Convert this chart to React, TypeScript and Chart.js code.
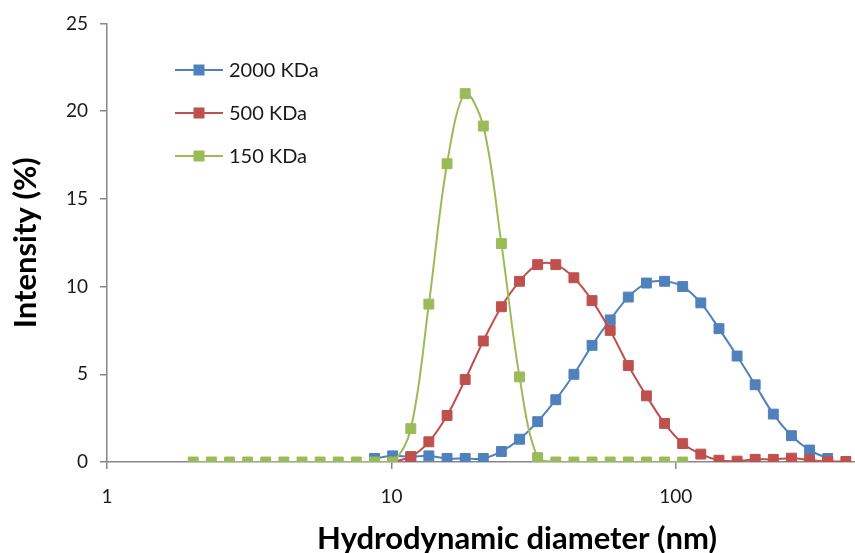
import React, { useEffect, useRef } from "react";
import { Chart, registerables } from "chart.js";

Chart.register(...registerables);

// Hydrodynamic diameter bins (nm)
const sizesNm = [
  2.01, 2.328, 2.696, 3.122, 3.615, 4.187, 4.849, 5.615, 6.503, 7.531, 8.721,
  10.1, 11.7, 13.54, 15.69, 18.17, 21.04, 24.36, 28.21, 32.67, 37.84, 43.82,
  50.75, 58.77, 68.06, 78.82, 91.28, 105.7, 122.4, 141.8, 164.2, 190.1, 220.2,
  255.0, 295.3, 342.0, 396.1,
];

const N = null;
// Intensity (%)
const kda2000 = [
  N, N, N, N, N, N, N, N, N, N,
  0.2, 0.35, 0.3, 0.35, 0.2, 0.2, 0.2, 0.6, 1.3, 2.3, 3.55, 5.0, 6.65, 8.1,
  9.4, 10.2, 10.3, 10.0, 9.07, 7.6, 6.04, 4.4, 2.73, 1.5, 0.68, 0.2,
  N,
];
const kda500 = [
  N, N, N, N, N, N, N, N, N, N, N,
  0, 0.3, 1.15, 2.65, 4.7, 6.9, 8.85, 10.3, 11.25, 11.25, 10.5, 9.2, 7.5, 5.5,
  3.77, 2.2, 1.05, 0.45, 0.1, 0.05, 0.15, 0.15, 0.22, 0.12, 0.03, 0.03,
];
const kda150 = [
  0, 0, 0, 0, 0, 0, 0, 0, 0, 0, 0, 0,
  1.9, 9.0, 17.0, 21.0, 19.15, 12.45, 4.85, 0.25,
  0, 0, 0, 0, 0, 0, 0, 0,
  N, N, N, N, N, N, N, N, N,
];

const seriesLabels = ["2000 KDa", "500 KDa", "150 KDa"];
const seriesColors = ["#4F81BD", "#C0504D", "#9BBB59"];
const seriesValues = [kda2000, kda500, kda150];

const xTicks = [1, 10, 100];
const yMin = 0;
const yMax = 25;
const yStep = 5;
const xMin = 1;
const xMax = 764;

const xTitle = "Hydrodynamic diameter (nm)";
const yTitle = "Intensity (%)";

const FONT = "Lato, 'Open Sans', sans-serif";

const legendPlugin = {
  id: "insideLegend",
  afterDraw(chart: any) {
    const ctx = chart.ctx;
    ctx.save();
    chart.data.datasets.forEach((ds: any, i: number) => {
      const y = 70 + 43 * i;
      ctx.strokeStyle = ds.borderColor;
      ctx.lineWidth = 2;
      ctx.beginPath();
      ctx.moveTo(175, y);
      ctx.lineTo(223, y);
      ctx.stroke();
      ctx.fillStyle = ds.backgroundColor;
      ctx.fillRect(199 - 5.5, y - 5.5, 11, 11);
      ctx.fillStyle = "#1a1a1a";
      ctx.font = `20px ${FONT}`;
      ctx.textAlign = "left";
      ctx.textBaseline = "middle";
      ctx.fillText(ds.label, 229, y + 1);
    });
    ctx.restore();
  },
};

export default function App() {
  const ref = useRef<HTMLCanvasElement>(null);

  useEffect(() => {
    if (!ref.current) return;
    const toPts = (vals: (number | null)[]) =>
      sizesNm
        .map((x, i) => ({ x, y: vals[i] }))
        .filter((p) => p.y !== null);

    const datasets = seriesValues.map((vals, i) => ({
      label: seriesLabels[i],
      data: toPts(vals),
      borderColor: seriesColors[i],
      backgroundColor: seriesColors[i],
      pointBackgroundColor: seriesColors[i],
      pointBorderColor: seriesColors[i],
      pointBorderWidth: 1,
      pointStyle: "rect",
      pointRadius: 7,
      borderWidth: 2,
      tension: 0.35,
      order: 3 - i,
      fill: false,
    }));

    const chart = new Chart(ref.current, {
      type: "line",
      data: { datasets },
      options: {
        animation: false,
        responsive: false,
        devicePixelRatio: 1,
        layout: { padding: { left: 0, top: 22, right: 2, bottom: 0 } },
        plugins: {
          legend: { display: false },
          tooltip: { enabled: false },
        },
        scales: {
          x: {
            type: "logarithmic",
            min: xMin,
            max: xMax,
            afterBuildTicks: (scale: any) => {
              scale.ticks = xTicks.map((v) => ({ value: v }));
            },
            afterFit: (scale: any) => {
              scale.height = 91;
            },
            ticks: {
              callback: (v: any) => String(v),
              font: { family: FONT, size: 19 },
              color: "#1a1a1a",
              padding: 16,
              maxRotation: 0,
              autoSkip: false,
            },
            grid: {
              drawOnChartArea: false,
              drawTicks: true,
              tickLength: 7,
              color: "#888888",
              lineWidth: 1.5,
            },
            border: { color: "#888888", width: 1.5 },
            title: {
              display: true,
              text: xTitle,
              font: { family: FONT, size: 31, weight: "bold", lineHeight: 1.0 },
              color: "#000",
              padding: { top: 0, bottom: -1 },
            },
          },
          y: {
            type: "linear",
            min: yMin,
            max: yMax,
            afterFit: (scale: any) => {
              scale.width = 107;
            },
            ticks: {
              stepSize: yStep,
              font: { family: FONT, size: 19 },
              color: "#1a1a1a",
              padding: 12,
            },
            grid: {
              drawOnChartArea: false,
              drawTicks: true,
              tickLength: 7,
              color: "#888888",
              lineWidth: 1.5,
            },
            border: { color: "#888888", width: 1.5 },
            title: {
              display: true,
              text: yTitle,
              font: { family: FONT, size: 31, weight: "bold", lineHeight: 1.2 },
              color: "#000",
              padding: { top: 7, bottom: 0 },
            },
          },
        },
      },
      plugins: [legendPlugin],
    } as any);

    return () => chart.destroy();
  }, []);

  return (
    <div
      style={{
        position: "fixed",
        left: 0,
        top: 0,
        width: 855,
        height: 553,
        overflow: "hidden",
        background: "#fff",
      }}
    >
      <canvas ref={ref} width={935} height={553} style={{ display: "block" }} />
    </div>
  );
}
